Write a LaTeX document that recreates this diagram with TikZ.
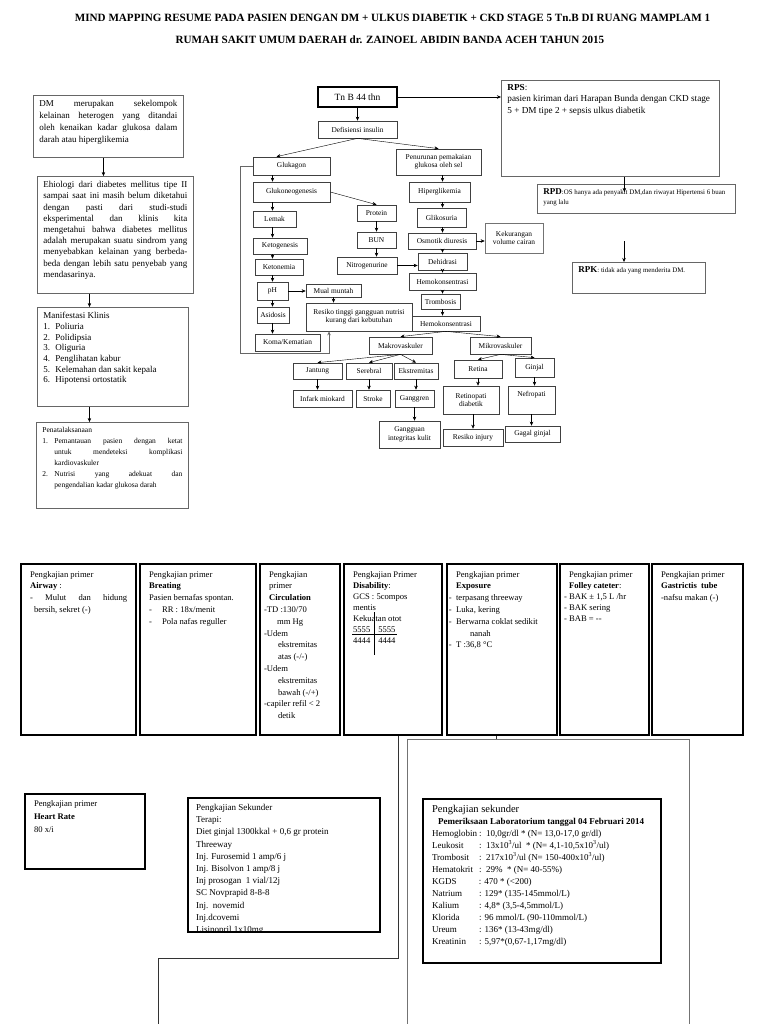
\documentclass[tikz,border=0pt]{standalone}
\usepackage{fontspec}
\setmainfont{Liberation Serif}
\usetikzlibrary{arrows.meta}

\tikzset{
  alur/.style 2 args={draw=black!75, line width=0.7pt, minimum width=#1pt, minimum height=#2pt, inner sep=0.5pt, align=center, font=\fontsize{7.4}{8.4}\selectfont},
  teks/.style 2 args={anchor=north west, execute at begin node={\begin{minipage}[t][#2pt][t]{#1pt}}, execute at end node={\end{minipage}}},
  kiri/.style={draw=black!60, line width=0.9pt, inner xsep=6pt, inner ysep=5pt, font=\fontsize{9}{11.2}\selectfont},
  primer/.style={draw=black, line width=2.2pt, inner xsep=9pt, inner ysep=7pt, font=\fontsize{8.6}{11.8}\selectfont},
  riwayat/.style={draw=black!60, line width=0.8pt, inner xsep=6pt, inner ysep=4pt},
  bingkai/.style={draw=black!55, line width=0.9pt},
  garis/.style={black!80, line width=0.8pt},
  judul/.style={font=\fontsize{11.1}{13}\selectfont\bfseries, inner sep=0pt},
}

\begin{document}
\begin{tikzpicture}[x=1pt, y=-1pt, >={Stealth[length=4pt, width=3.5pt]}]

  \useasboundingbox (0,0) rectangle (768,1024);
  \fill[white] (0,0) rectangle (768,1024);
  \clip (0,0) rectangle (768,1024);

  % Judul
  \node[judul] (judul1) at (392.5,18) {MIND MAPPING RESUME PADA PASIEN DENGAN DM + ULKUS DIABETIK + CKD STAGE 5 Tn.B DI RUANG MAMPLAM 1};
  \node[judul] (judul2) at (390,40) {RUMAH SAKIT UMUM DAERAH dr. ZAINOEL ABIDIN BANDA ACEH TAHUN 2015};

  % 1. Kolom kiri (definisi, etiologi, manifestasi, penatalaksanaan)
  \node[kiri, teks={138}{52}, font=\fontsize{9}{11.8}\selectfont] (dm) at (33,95)
    {DM merupakan sekelompok\linebreak kelainan heterogen yang ditandai\linebreak oleh kenaikan kadar glukosa dalam\linebreak darah atau hiperglikemia};
  \node[kiri, teks={144}{107}] (etiologi) at (37,176)
    {Ehiologi dari diabetes mellitus tipe II\linebreak sampai saat ini masih belum diketahui\linebreak dengan pasti dari studi-studi\linebreak eksperimental dan klinis kita\linebreak mengetahui bahwa diabetes mellitus\linebreak adalah merupakan suatu sindrom yang\linebreak menyebabkan kelainan yang berbeda-\linebreak beda dengan lebih satu penyebab yang\linebreak mendasarinya.};
  \node[kiri, teks={139}{89}, font=\fontsize{9}{10.7}\selectfont] (manifestasi) at (37,307)
    {Manifestasi Klinis\\
     \makebox[12pt][l]{1.}Poliuria\\
     \makebox[12pt][l]{2.}Polidipsia\\
     \makebox[12pt][l]{3.}Oliguria\\
     \makebox[12pt][l]{4.}Penglihatan kabur\\
     \makebox[12pt][l]{5.}Kelemahan dan sakit kepala\\
     \makebox[12pt][l]{6.}Hipotensi ortostatik};
  \node[kiri, teks={140}{76}, font=\fontsize{7.5}{11}\selectfont] (penatalaksanaan) at (36,422)
    {{\fontsize{7.5}{9}\selectfont Penatalaksanaan}\par
     {\hangindent=12pt\hangafter=1\makebox[12pt][l]{1.}Pemantauan pasien dengan ketat\linebreak untuk mendeteksi komplikasi\linebreak kardiovaskuler\par}
     {\hangindent=12pt\hangafter=1\makebox[12pt][l]{2.}Nutrisi yang adekuat dan\linebreak pengendalian kadar glukosa darah\par}};

  \draw[->] ([xshift=-5pt]dm.south) -- ([xshift=-12pt]etiologi.north);
  \draw[->] ([xshift=-26pt]etiologi.south) -- ([xshift=-23.5pt]manifestasi.north);
  \draw[->] ([xshift=-23.5pt]manifestasi.south) -- ([xshift=-23pt]penatalaksanaan.north);

  % 2. Alur patofisiologi
  \node[alur={79}{20}, draw=black, line width=1.4pt, font=\fontsize{9.5}{11}\selectfont] (tnb) at (357.5,97) {Tn B 44 thn};
  \node[alur={79}{17}] (defisiensi) at (357.5,129.5) {Defisiensi insulin};
  \node[alur={77}{18}] (glukagon) at (291.5,166) {Glukagon};
  \node[alur={85}{26}] (penurunan) at (438.5,162) {Penurunan pemakaian\\glukosa oleh sel};
  \node[alur={77}{20}] (glukoneo) at (291.5,192) {Glukoneogenesis};
  \node[alur={39}{16}] (protein) at (376.5,213) {Protein};
  \node[alur={39}{16}] (bun) at (376.5,240) {BUN};
  \node[alur={60}{17}] (nitro) at (367,265.5) {Nitrogenurine};
  \node[alur={43}{16}] (lemak) at (274.5,219) {Lemak};
  \node[alur={54}{16}] (ketogenesis) at (280,246) {Ketogenesis};
  \node[alur={48}{16}] (ketonemia) at (279,267) {Ketonemia};
  \node[alur={31}{18}] (ph) at (272.5,291) {pH};
  \node[alur={55}{13}] (mual) at (333.5,290.5) {Mual muntah};
  \node[alur={106}{28}] (resiko) at (359,317) {Resiko tinggi gangguan nutrisi\\kurang dari kebutuhan};
  \node[alur={32}{16}] (asidosis) at (273,315) {Asidosis};
  \node[alur={65}{17}] (koma) at (287.5,342.5) {Koma/Kematian};
  \node[alur={61}{20}] (hiper) at (439.5,192) {Hiperglikemia};
  \node[alur={49}{19}] (glikosuria) at (441.5,217.5) {Glikosuria};
  \node[alur={68}{16}] (osmotik) at (442,241) {Osmotik diuresis};
  \node[alur={58}{30}, draw=black!55] (kekurangan) at (514,238) {Kekurangan\\volume cairan};
  \node[alur={49}{17}] (dehidrasi) at (442.5,261.5) {Dehidrasi};
  \node[alur={67}{17}] (hemo1) at (442.5,281.5) {Hemokonsentrasi};
  \node[alur={39}{15}] (trombosis) at (440.5,301.5) {Trombosis};
  \node[alur={68}{15}] (hemo2) at (446,323.5) {Hemokonsentrasi};
  \node[alur={63}{17}] (makro) at (400.5,345.5) {Makrovaskuler};
  \node[alur={61}{17}] (mikro) at (500.5,345.5) {Mikrovaskuler};
  \node[alur={49}{16}] (jantung) at (317.5,371) {Jantung};
  \node[alur={46}{16}] (serebral) at (369,371) {Serebral};
  \node[alur={44}{16}] (ekstremitas) at (416,371) {Ekstremitas};
  \node[alur={48}{18}] (retina) at (478,369) {Retina};
  \node[alur={39}{19}] (ginjal) at (534.5,367.5) {Ginjal};
  \node[alur={59}{17}] (infark) at (322.5,398.5) {Infark miokard};
  \node[alur={34}{17}] (stroke) at (373,398.5) {Stroke};
  \node[alur={39}{17}] (ganggren) at (414.5,398.5) {Ganggren};
  \node[alur={56}{28}] (retinopati) at (471,400) {Retinopati\\diabetik};
  \node[alur={47}{28}, text depth=12pt] (nefropati) at (531.5,400) {Nefropati};
  \node[alur={61}{27}] (integritas) at (409.5,434.5) {Gangguan\\integritas kulit};
  \node[alur={60}{17}] (injury) at (473,437.5) {Resiko injury};
  \node[alur={55}{16}] (gagal) at (532.5,434) {Gagal ginjal};

  % panah alur
  \draw[->] (defisiensi.south) -- ([xshift=-15pt]glukagon.north);
  \draw[->] (defisiensi.south) -- (penurunan.north);
  \draw[->] (glukoneo.east) -- (protein.north);
  \foreach \a/\b in {glukagon/glukoneo, glukoneo/lemak, lemak/ketogenesis, ketogenesis/ketonemia, ketonemia/ph, ph/asidosis, asidosis/koma}
    \draw[->] (\a.south -| ph) -- (\b.north -| ph);
  \foreach \a/\b in {penurunan/hiper, hiper/glikosuria, glikosuria/osmotik, osmotik/dehidrasi, dehidrasi/hemo1, hemo1/trombosis, trombosis/hemo2}
    \draw[->] (\a.south -| dehidrasi) -- (\b.north -| dehidrasi);
  \foreach \a/\b in {tnb/defisiensi, protein/bun, bun/nitro, mual/resiko, jantung/infark, serebral/stroke, ekstremitas/ganggren, ganggren/integritas, retina/retinopati, ginjal/nefropati, nefropati/gagal}
    \draw[->] (\a.south) -- (\a.south |- \b.north);
  \draw[->] (retinopati.south -| injury) -- (injury.north);
  \draw[->] (ph.east) -- (ph.east -| mual.west);
  \draw[->] (nitro.east) -- (nitro.east -| dehidrasi.west);
  \draw[->] (osmotik.east) -- (osmotik.east -| kekurangan.west);
  \draw[->] (hemo2.south) -- (makro.north);
  \draw[->] (hemo2.south) -- (mikro.north);
  \foreach \t in {jantung, serebral, ekstremitas}
    \draw[->] (makro.south) -- (\t.north);
  \draw[->] (mikro.south) -- (retina.north);
  \draw[->] (mikro.south) -- (ginjal.north);
  % garis balik dari glukagon ke resiko
  \coordinate (balik) at (329,353);
  \draw[->, garis, black!60] (glukagon.west) -- ++(-12,0) |- (balik) -- (resiko.south -| balik);

  % 3. Riwayat penyakit
  \node[riwayat, teks={206}{88}, font=\fontsize{9.2}{11.5}\selectfont] (rps) at (501,80)
    {\textbf{RPS}:\\ pasien kiriman dari Harapan Bunda dengan CKD stage\\ 5 + DM tipe 2 + sepsis ulkus diabetik};
  \node[riwayat, teks={186}{21}, font=\fontsize{6.9}{10}\selectfont] (rpd) at (537,184)
    {{\fontsize{9}{10}\selectfont\textbf{RPD}}:OS hanya ada penyakit DM,dan riwayat Hipertensi 6 buan\\ yang lalu};
  \node[riwayat, teks={121}{23}, font=\fontsize{6.9}{10}\selectfont] (rpk) at (572,262)
    {{\fontsize{9}{10}\selectfont\textbf{RPK}}: tidak ada yang menderita DM.};

  \draw[->] (tnb.east) -- (tnb.east -| rps.west);
  \draw[->] ([xshift=14pt]rps.south) -- ([xshift=-12pt, yshift=-8pt]rpd.north);
  \coordinate (rpkatas) at (624,241);
  \draw[->] (rpkatas) -- (rpkatas |- rpk.north);

  % 4. Pengkajian primer
  \node[primer, teks={97}{157}] (airway) at (20,563)
    {Pengkajian primer\\ \textbf{Airway} :\par
     {\hangindent=4pt\hangafter=1 - Mulut dan hidung\linebreak bersih, sekret (-)\par}};
  \node[primer, teks={98}{157}] (breating) at (139,563)
    {\raggedright Pengkajian primer\\ \textbf{Breating}\\ Pasien bernafas spontan.\\
     \makebox[13pt][l]{-}RR : 18x/menit\\ \makebox[13pt][l]{-}Pola nafas reguller};
  \node[primer, inner xsep=4pt, teks={72}{157}] (circulation) at (259,563)
    {\raggedright \hspace*{5pt}Pengkajian\\ \hspace*{5pt}primer\\ \hspace*{5pt}\textbf{Circulation}\\
     -TD :130/70\\ \hspace*{13pt}mm Hg\\ -Udem\\ \hspace*{14pt}ekstremitas\\ \hspace*{14pt}atas (-/-)\\
     -Udem\\ \hspace*{14pt}ekstremitas\\ \hspace*{14pt}bawah (-/+)\\ -capiler refil < 2\\ \hspace*{14pt}detik};
  \node[primer, teks={80}{157}, font=\fontsize{8.6}{11}\selectfont] (disability) at (343,563)
    {\raggedright Pengkajian Primer\\ \textbf{Disability}:\\ GCS : 5compos\\ mentis\\ Kekuatan otot\\
     5555\hspace{8pt}5555\\ 4444\hspace{8pt}4444};
  \node[primer, teks={92}{157}] (exposure) at (446,563)
    {\raggedright Pengkajian primer\\ \textbf{Exposure}\\ \makebox[0pt][r]{-\ \ }terpasang threeway\\ \makebox[0pt][r]{-\ \ }Luka, kering\\
     \makebox[0pt][r]{-\ \ }Berwarna coklat sedikit\\ \hspace*{14pt}nanah\\ \makebox[0pt][r]{-\ \ }T :36,8 °C};
  \node[primer, teks={71}{157}, font=\fontsize{8.6}{11}\selectfont] (folley) at (559,563)
    {\raggedright Pengkajian primer\\ \textbf{Folley cateter}:\\ \makebox[0pt][r]{-\ }BAK ± 1,5 L /hr\\ \makebox[0pt][r]{-\ }BAK sering\\ \makebox[0pt][r]{-\ }BAB = -{}-};
  \node[primer, teks={73}{157}] (gastrictis) at (651,563)
    {\raggedright Pengkajian primer\\ \textbf{Gastrictis\ \ tube}\\ -nafsu makan (-)};

  % kekuatan otot
  \draw (disability.north west) ++(31,49) -- ++(0,43);
  \draw (disability.north west) ++(9,71) -- ++(45,0);

  \node[primer, line width=2pt, teks={102}{61}, font=\fontsize{8.6}{13}\selectfont] (heart) at (24,793)
    {\raggedright Pengkajian primer\\ \textbf{Heart Rate}\\ 80 x/i};

  % 5. Pengkajian sekunder
  \begin{scope}
    \clip (188,798) rectangle (380,930);
    \node[inner xsep=8pt, inner ysep=6pt, teks={176}{122}, font=\fontsize{9}{12.2}\selectfont] (sekunder) at (188,798)
      {\raggedright Pengkajian Sekunder\\ Terapi:\\ Diet ginjal 1300kkal + 0,6 gr protein\\ Threeway\\
       Inj. Furosemid 1 amp/6 j\\ Inj. Bisolvon 1 amp/8 j\\ Inj prosogan\ \ 1 vial/12j\\ SC Novprapid 8-8-8\\
       Inj.\ \ novemid\\ Inj.dcovemi\\ Lisinopril 1x10mg};
  \end{scope}
  \draw[line width=2pt] (sekunder.north west) rectangle (sekunder.south east);

  \node[bingkai, minimum width=282pt, minimum height=330pt, anchor=north west] (bingkai) at (407,739) {};
  \node[primer, line width=2pt, inner ysep=6pt, teks={220}{152}, font=\fontsize{9}{12}\selectfont] (lab) at (422,798)
    {\raggedright {\fontsize{10.5}{12}\selectfont Pengkajian sekunder}\\
     \hspace*{6pt}\textbf{Pemeriksaan Laboratorium tanggal 04 Februari 2014}\\
     \makebox[47pt][l]{Hemoglobin}:\ \ 10,0gr/dl * (N= 13,0-17,0 gr/dl)\\
     \makebox[47pt][l]{Leukosit}:\ \ 13x10\textsuperscript{3}/ul\ \ * (N= 4,1-10,5x10\textsuperscript{3}/ul)\\
     \makebox[47pt][l]{Trombosit}:\ \ 217x10\textsuperscript{3}/ul (N= 150-400x10\textsuperscript{3}/ul)\\
     \makebox[47pt][l]{Hematokrit}:\ \ 29\%\ \ * (N= 40-55\%)\\
     \makebox[47pt][l]{KGDS}: 470 * (<200)\\
     \makebox[47pt][l]{Natrium}: 129* (135-145mmol/L)\\
     \makebox[47pt][l]{Kalium}: 4,8* (3,5-4,5mmol/L)\\
     \makebox[47pt][l]{Klorida}: 96 mmol/L (90-110mmol/L)\\
     \makebox[47pt][l]{Ureum}: 136* (13-43mg/dl)\\
     \makebox[47pt][l]{Kreatinin}: 5,97*(0,67-1,17mg/dl)};

  % garis penghubung bawah
  \coordinate (dis1) at ([xshift=5pt]disability.south);
  \coordinate (belok) at (158,958);
  \draw[garis] (dis1) |- (belok) -- ++(0,80);
  \coordinate (exp1) at ([xshift=-6pt]exposure.south);
  \draw[garis] (exp1) -- (exp1 |- bingkai.north);

\end{tikzpicture}
\end{document}
